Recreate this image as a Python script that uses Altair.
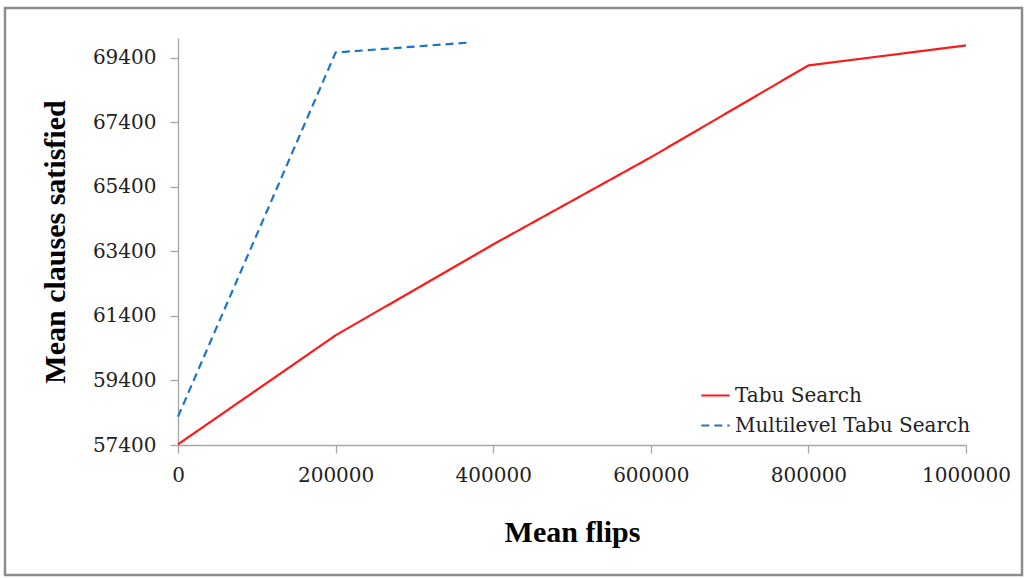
import altair as alt
import pandas as pd

# Mean flips vs. mean clauses satisfied for the two search strategies
series_names = ["Tabu Search", "Multilevel Tabu Search"]

ts_flips = [0, 200000, 400000, 600000, 800000, 1000000]
ts_clauses = [57420, 60800, 63620, 66320, 69170, 69790]

mts_flips = [0, 200000, 370000]
mts_clauses = [58280, 69570, 69880]

y_ticks = [57400, 59400, 61400, 63400, 65400, 67400, 69400]
x_ticks = [0, 200000, 400000, 600000, 800000, 1000000]

rows = [
    {"flips": f, "clauses": c, "series": series_names[0], "order": i}
    for i, (f, c) in enumerate(zip(ts_flips, ts_clauses))
] + [
    {"flips": f, "clauses": c, "series": series_names[1], "order": i}
    for i, (f, c) in enumerate(zip(mts_flips, mts_clauses))
]
df = pd.DataFrame(rows)

LABEL_FONT = "DejaVu Serif"
TITLE_FONT = "Liberation Serif"
W, H = 788, 407

lines = alt.Chart(df).mark_line(strokeWidth=2.2).encode(
    x=alt.X(
        "flips:Q",
        scale=alt.Scale(domain=[0, 1000000], nice=False, zero=False),
        axis=alt.Axis(
            values=x_ticks, format="d", title="Mean flips",
            titlePadding=32, labelPadding=12, labelFlush=False,
        ),
    ),
    y=alt.Y(
        "clauses:Q",
        scale=alt.Scale(domain=[57400, 70020], nice=False, zero=False),
        axis=alt.Axis(
            values=y_ticks, format="d", title="Mean clauses satisfied",
            titlePadding=22, labelPadding=14, labelFlush=False,
        ),
    ),
    color=alt.Color(
        "series:N",
        scale=alt.Scale(domain=series_names, range=["#ff1a1a", "#1c75c8"]),
        legend=alt.Legend(
            title=None, orient="none", legendX=522, legendY=342,
            symbolType="stroke", symbolSize=800, symbolStrokeWidth=2,
            labelFont=LABEL_FONT, labelFontSize=20, labelColor="#222222",
            labelLimit=0, rowPadding=4, labelOffset=4,
        ),
    ),
    strokeDash=alt.StrokeDash(
        "series:N",
        scale=alt.Scale(domain=series_names, range=[[1, 0], [8, 5]]),
        legend=None,
    ),
    order="order:Q",
)

# Outer chart frame
frame = alt.Chart(pd.DataFrame({"k": [0]})).mark_rect(
    fill=None, stroke="#8c8c8c", strokeWidth=2.5
).encode(
    x=alt.value(-173), x2=alt.value(844),
    y=alt.value(-30), y2=alt.value(537),
)

chart = alt.layer(frame, lines).properties(
    width=W, height=H,
    autosize=alt.AutoSizeParams(type="none"),
    padding={"left": 178, "top": 38, "right": 59, "bottom": 133},
    background="white",
).configure_view(stroke=None).configure_axis(
    grid=False,
    domainColor="#a6a6a6", domainWidth=1.3,
    tickColor="#a6a6a6", tickSize=8, tickWidth=1.3,
    labelFont=LABEL_FONT, labelFontSize=20, labelColor="#222222",
    titleFont=TITLE_FONT, titleFontSize=30, titleFontWeight="bold",
    titleColor="#000000",
).configure_legend(
    labelFont=LABEL_FONT,
)

chart.save("out.html", embed_options={"renderer": "svg", "actions": False})
